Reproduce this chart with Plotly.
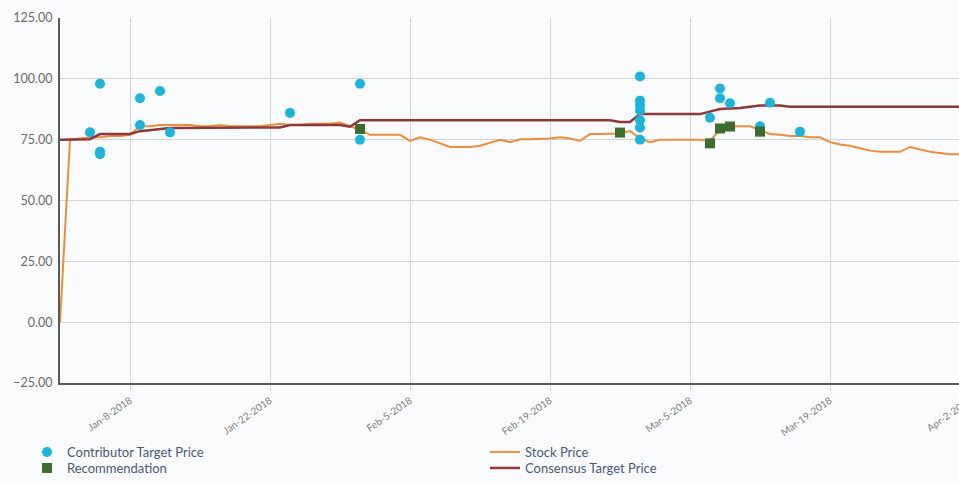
import plotly.graph_objects as go

# ---- data ----
stock_dates = [
    "2018-01-01", "2018-01-02", "2018-01-03", "2018-01-04", "2018-01-05", "2018-01-06", "2018-01-07",
    "2018-01-08", "2018-01-09", "2018-01-10", "2018-01-11", "2018-01-12", "2018-01-13", "2018-01-14",
    "2018-01-15", "2018-01-16", "2018-01-17", "2018-01-18", "2018-01-19", "2018-01-20", "2018-01-21",
    "2018-01-22", "2018-01-23", "2018-01-24", "2018-01-25", "2018-01-26", "2018-01-27", "2018-01-28",
    "2018-01-29", "2018-01-30", "2018-01-31", "2018-02-01", "2018-02-02", "2018-02-03", "2018-02-04",
    "2018-02-05", "2018-02-06", "2018-02-07", "2018-02-08", "2018-02-09", "2018-02-10", "2018-02-11",
    "2018-02-12", "2018-02-13", "2018-02-14", "2018-02-15", "2018-02-16", "2018-02-17", "2018-02-18",
    "2018-02-19", "2018-02-20", "2018-02-21", "2018-02-22", "2018-02-23", "2018-02-24", "2018-02-25",
    "2018-02-26", "2018-02-27", "2018-02-28", "2018-03-01", "2018-03-02", "2018-03-03", "2018-03-04",
    "2018-03-05", "2018-03-06", "2018-03-07", "2018-03-08", "2018-03-09", "2018-03-10", "2018-03-11",
    "2018-03-12", "2018-03-13", "2018-03-14", "2018-03-15", "2018-03-16", "2018-03-17", "2018-03-18",
    "2018-03-19", "2018-03-20", "2018-03-21", "2018-03-22", "2018-03-23", "2018-03-24", "2018-03-25",
    "2018-03-26", "2018-03-27", "2018-03-28", "2018-03-29", "2018-03-30", "2018-03-31", "2018-04-01",
    "2018-04-02",
]
stock_price = [
    0, 75, 75.5, 76, 76, 76.5, 76.5,
    77, 80.5, 80.5, 81, 81, 81, 81,
    80.5, 80.5, 81, 80.5, 80.5, 80.5, 80.5,
    81, 81.5, 81, 81, 81.5, 81.5, 81.5,
    82, 80.5, 79, 77, 77, 77, 77,
    74.5, 76, 75, 73.5, 72, 72, 72,
    72.5, 73.8, 75, 74, 75.2, 75.2, 75.2,
    75.5, 76, 75.5, 74.5, 77.3, 77.3, 77.3,
    77.5, 78.5, 75.5, 74, 75, 75, 75,
    75, 75, 74.5, 79, 80.5, 80.5, 80.5,
    79, 77.3, 77, 76.5, 76.5, 76, 76,
    74, 73, 72.5, 71.5, 70.5, 70, 70,
    70, 72, 71, 70, 69.5, 69, 69,
    69,
]

consensus_dates = [
    "2018-01-01", "2018-01-04", "2018-01-05", "2018-01-08", "2018-01-09", "2018-01-11", "2018-01-12",
    "2018-01-22", "2018-01-23", "2018-01-24", "2018-01-29", "2018-01-30", "2018-01-31", "2018-02-25",
    "2018-02-26", "2018-02-27", "2018-02-28", "2018-03-06", "2018-03-08", "2018-03-10", "2018-03-12",
    "2018-03-14", "2018-03-15", "2018-04-02",
]
consensus_price = [
    75, 75.2, 77.3, 77.3, 78.5, 79.3, 79.8,
    80, 80, 81, 81, 80.3, 83, 83,
    82.3, 82.3, 85.5, 85.5, 87.6, 88, 89,
    89, 88.5, 88.5,
]

contributor_dates = [
    "2018-01-04", "2018-01-05", "2018-01-05", "2018-01-05", "2018-01-09", "2018-01-09", "2018-01-11",
    "2018-01-12", "2018-01-24", "2018-01-31", "2018-01-31",
    "2018-02-28", "2018-02-28", "2018-02-28", "2018-02-28", "2018-02-28", "2018-02-28", "2018-02-28",
    "2018-03-07", "2018-03-08", "2018-03-08", "2018-03-09", "2018-03-12", "2018-03-13", "2018-03-16",
]
contributor_price = [
    78, 98, 70, 69, 92, 81, 95,
    78, 86, 98, 75,
    101, 91, 89, 87, 83, 80, 75,
    84, 96, 92, 90, 80.5, 90.2, 78.3,
]

recommendation_dates = ["2018-01-31", "2018-02-26", "2018-03-07", "2018-03-08", "2018-03-09", "2018-03-12"]
recommendation_price = [79.4, 77.9, 73.5, 79.6, 80.4, 78.3]

tick_dates = ["2018-01-08", "2018-01-22", "2018-02-05", "2018-02-19", "2018-03-05", "2018-03-19", "2018-04-02"]
tick_labels = ["Jan-8-2018", "Jan-22-2018", "Feb-5-2018", "Feb-19-2018", "Mar-5-2018", "Mar-19-2018", "Apr-2-2018"]

# ---- figure ----
fig = go.Figure()

fig.add_trace(go.Scatter(
    x=stock_dates, y=stock_price, mode="lines", name="Stock Price",
    line=dict(color="#ec8f3c", width=2), legend="legend2",
))
fig.add_trace(go.Scatter(
    x=consensus_dates, y=consensus_price, mode="lines", name="Consensus Target Price",
    line=dict(color="#8f3838", width=2.5), legend="legend4",
))
fig.add_trace(go.Scatter(
    x=contributor_dates, y=contributor_price, mode="markers", name="Contributor Target Price",
    marker=dict(color="#1bb4da", size=10, symbol="circle", line=dict(width=0)),
    legend="legend",
))
fig.add_trace(go.Scatter(
    x=recommendation_dates, y=recommendation_price, mode="markers", name="Recommendation",
    marker=dict(color="#3c6d2c", size=10, symbol="square", line=dict(width=0)),
    legend="legend3",
))

W, H = 985, 483
legend_common = dict(
    orientation="v",
    xref="container", yref="container",
    xanchor="left", yanchor="middle",
    font=dict(size=13, color="#4b5876"),
    bgcolor="rgba(0,0,0,0)",
    borderwidth=0,
    itemwidth=30,
)
row1_y = (H - 452) / H
row2_y = (H - 468) / H
col1_x = 27 / W
col2_x = 485 / W
fig.update_layout(
    width=W, height=H,
    margin=dict(l=60, r=10, t=18, b=100, autoexpand=False),
    paper_bgcolor="#fafbfc",
    plot_bgcolor="#fafbfc",
    font=dict(family="Lato, 'Open Sans', sans-serif", color="#666666"),
    showlegend=True,
    legend=dict(legend_common, x=col1_x, y=row1_y),
    legend2=dict(legend_common, x=col2_x, y=row1_y),
    legend3=dict(legend_common, x=col1_x, y=row2_y),
    legend4=dict(legend_common, x=col2_x, y=row2_y),
)
fig.update_xaxes(
    type="date",
    range=["2018-01-01", "2018-04-02 12:00"],
    tickmode="array", tickvals=tick_dates, ticktext=tick_labels,
    tickangle=-35,
    tickfont=dict(size=10, color="#808080"),
    showgrid=True, gridcolor="#d4d4d4", gridwidth=1,
    ticks="outside", ticklen=6, tickcolor="#d4d4d4",
    showline=True, linecolor="#5a5a5a", linewidth=2,
    zeroline=False,
)
fig.update_yaxes(
    range=[-25, 125], tickmode="linear", tick0=0, dtick=25,
    tickformat=".2f",
    tickfont=dict(size=12.5, color="#6b6b6b"),
    showgrid=True, gridcolor="#d4d4d4", gridwidth=1,
    showline=True, linecolor="#5a5a5a", linewidth=2,
    zeroline=False, ticks="", ticklabelstandoff=3,
)

fig.write_html(
    "out.html",
    config={"displayModeBar": False},
    post_script="document.body.style.margin='0';document.body.style.overflow='hidden';document.documentElement.style.overflow='hidden';",
)
